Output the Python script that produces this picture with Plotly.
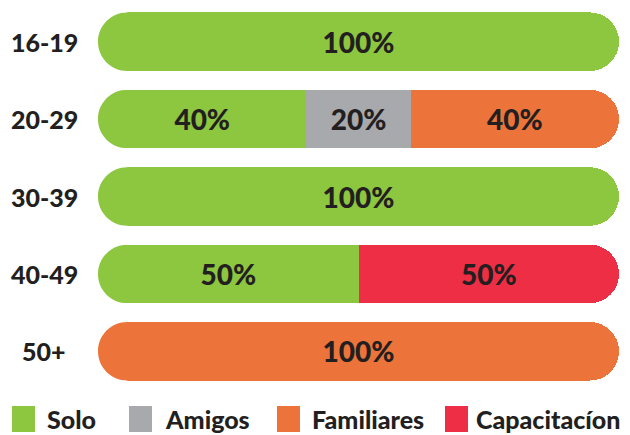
import plotly.graph_objects as go

# Age groups and share (%) of each way of learning
age_groups = ["16-19", "20-29", "30-39", "40-49", "50+"]
series_names = ["Solo", "Amigos", "Familiares", "Capacitacíon"]
solo = [100, 40, 100, 50, None]
amigos = [None, 20, None, None, None]
familiares = [None, 40, None, None, 100]
capacitacion = [None, None, None, 50, None]
series_values = [solo, amigos, familiares, capacitacion]
colors = ["#8DC63F", "#A7A9AC", "#EC743A", "#EE2E45"]

W, H = 630, 435
M_L, M_R, M_T, M_B = 98, 11, 3, 45
PW, PH = W - M_L - M_R, H - M_T - M_B
FONT = "Lato"
INK = "#231F20"


def px_x(p):
    return (p - M_L) / PW


def px_y(p):
    return (H - M_B - p) / PH


fig = go.Figure()
for name, vals, col in zip(series_names, series_values, colors):
    fig.add_trace(go.Bar(
        y=age_groups, x=vals, name=name, orientation="h",
        marker=dict(color=col, line=dict(width=0)),
        texttemplate="%{x}%", textposition="inside", insidetextanchor="middle",
        textangle=0, textfont=dict(family=FONT, size=28, color=INK, weight=900),
        hoverinfo="skip", showlegend=False,
    ))

# Bar thickness in pixels -> round the left end of every row as well
bargap = 0.244
bar_h = PH / len(age_groups) * (1 - bargap)
r = bar_h / 2
k = 0.5523 * r
h2 = bar_h / 2
cap = (f"M -2,{h2 + 2} L {r},{h2 + 2} L {r},{h2} "
       f"C {r - k},{h2} 0,{k} 0,0 "
       f"C 0,{-k} {r - k},{-h2} {r},{-h2} "
       f"L {r},{-h2 - 2} L -2,{-h2 - 2} Z")
shapes = []
for g in age_groups:
    shapes.append(dict(type="path", xref="x", yref="y", xsizemode="pixel", ysizemode="pixel",
                       xanchor=0, yanchor=g, path=cap, fillcolor="white",
                       line=dict(width=0), layer="above"))

annotations = []
for g in age_groups:
    annotations.append(dict(x=px_x(44), xref="paper", y=g, yref="y", text=g, showarrow=False,
                            xanchor="center", yanchor="middle",
                            font=dict(family=FONT, size=25, color=INK, weight=900)))

# Custom legend row along the bottom
sq_left = [12, 129, 277, 445]
txt_left = [45, 163, 310, 474]
for name, col, sx, tx in zip(series_names, colors, sq_left, txt_left):
    shapes.append(dict(type="rect", xref="paper", yref="paper",
                       x0=px_x(sx), x1=px_x(sx + 23), y0=px_y(432), y1=px_y(406),
                       fillcolor=col, line=dict(width=0)))
    annotations.append(dict(x=px_x(tx), xref="paper", y=px_y(419), yref="paper", text=name,
                            showarrow=False, xanchor="left", yanchor="middle",
                            font=dict(family=FONT, size=25, color=INK, weight=900)))

fig.update_layout(
    width=W, height=H, barmode="stack", bargap=bargap, barcornerradius=r,
    margin=dict(l=M_L, r=M_R, t=M_T, b=M_B),
    paper_bgcolor="white", plot_bgcolor="white",
    xaxis=dict(range=[0, 100], visible=False, fixedrange=True),
    yaxis=dict(categoryorder="array", categoryarray=age_groups, range=[4.5, -0.5],
               visible=False, fixedrange=True),
    shapes=shapes, annotations=annotations, showlegend=False,
)
fig.write_html("out.html")
